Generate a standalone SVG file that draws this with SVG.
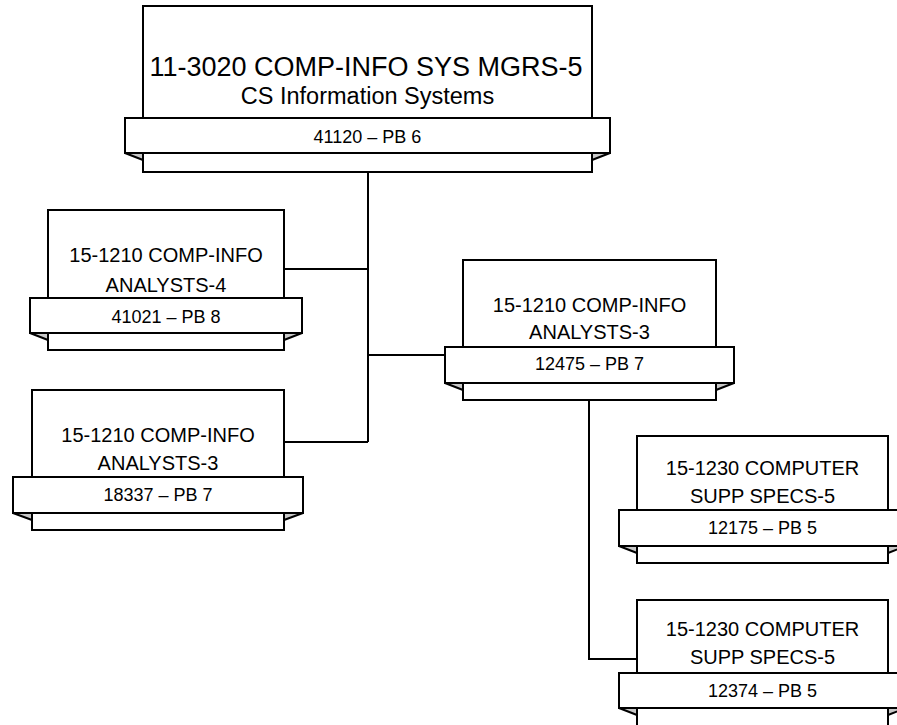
<svg xmlns="http://www.w3.org/2000/svg" width="897" height="725" viewBox="0 0 897 725">
<style>
.box{fill:#fff;stroke:#000;stroke-width:2}
.rib{fill:#fff;stroke:#000;stroke-width:2}
.fold{fill:#c8c8c8;stroke:#000;stroke-width:2;stroke-linejoin:round}
.conn{fill:none;stroke:#000;stroke-width:2}
text{font-family:"Liberation Sans",Arial,sans-serif;fill:#000;text-anchor:middle}
.t{font-size:20px}
.r{font-size:18px}
</style>
<rect width="897" height="725" fill="#fff"/>
<g id="connectors">
<path class="conn" d="M368 172V442M284 269H368M368 355H445M284 442H368M589 400V659H637"/>
</g>
<g id="n1">
<rect class="box" x="143" y="6" width="449" height="166"/>
<polygon class="fold" points="125,153 143,153 143,160"/>
<polygon class="fold" points="610,153 592,153 592,160"/>
<rect class="rib" x="125" y="118" width="485" height="35"/>
<text x="366" y="76" font-size="27">11-3020 COMP-INFO SYS MGRS-5</text>
<text x="367.5" y="104" font-size="23.5">CS Information Systems</text>
<text class="r" x="367.5" y="143">41120 – PB 6</text>
</g>
<g id="n2">
<rect class="box" x="48" y="210" width="236" height="140"/>
<polygon class="fold" points="30,333 48,333 48,340"/>
<polygon class="fold" points="302,333 284,333 284,340"/>
<rect class="rib" x="30" y="298" width="272" height="35"/>
<text class="t" x="166" y="262">15-1210 COMP-INFO</text>
<text class="t" x="166" y="292">ANALYSTS-4</text>
<text class="r" x="166" y="323">41021 – PB 8</text>
</g>
<g id="n3">
<rect class="box" x="32" y="390" width="252" height="140"/>
<polygon class="fold" points="13,513 32,513 32,520"/>
<polygon class="fold" points="303,513 284,513 284,520"/>
<rect class="rib" x="13" y="477" width="290" height="36"/>
<text class="t" x="158" y="442">15-1210 COMP-INFO</text>
<text class="t" x="158" y="470">ANALYSTS-3</text>
<text class="r" x="158" y="501">18337 – PB 7</text>
</g>
<g id="n4">
<rect class="box" x="463" y="260" width="253" height="140"/>
<polygon class="fold" points="445,383 463,383 463,390"/>
<polygon class="fold" points="734,383 716,383 716,390"/>
<rect class="rib" x="445" y="347" width="289" height="36"/>
<text class="t" x="589.5" y="312">15-1210 COMP-INFO</text>
<text class="t" x="589.5" y="339">ANALYSTS-3</text>
<text class="r" x="589.5" y="370">12475 – PB 7</text>
</g>
<g id="n5">
<rect class="box" x="637" y="436" width="251" height="127"/>
<polygon class="fold" points="619,546 637,546 637,553"/>
<polygon class="fold" points="906,546 888,546 888,553"/>
<rect class="rib" x="619" y="510" width="287" height="36"/>
<text class="t" x="762.5" y="475">15-1230 COMPUTER</text>
<text class="t" x="762.5" y="503">SUPP SPECS-5</text>
<text class="r" x="762.5" y="534">12175 – PB 5</text>
</g>
<g id="n6">
<rect class="box" x="637" y="600" width="251" height="127"/>
<polygon class="fold" points="619,708 637,708 637,715"/>
<polygon class="fold" points="906,708 888,708 888,715"/>
<rect class="rib" x="619" y="673" width="287" height="35"/>
<text class="t" x="762.5" y="636">15-1230 COMPUTER</text>
<text class="t" x="762.5" y="664">SUPP SPECS-5</text>
<text class="r" x="762.5" y="697">12374 – PB 5</text>
</g>
</svg>
